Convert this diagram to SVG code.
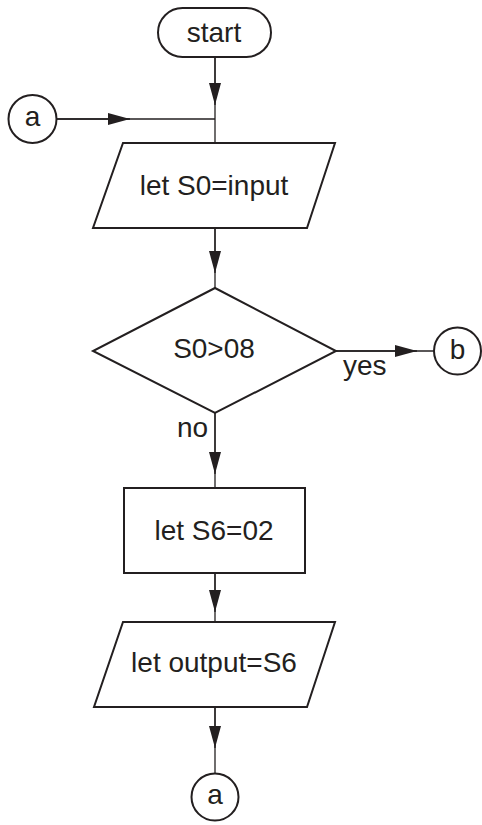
<svg xmlns="http://www.w3.org/2000/svg" width="482" height="825" viewBox="0 0 482 825">
<style>
.shape{fill:#fff;stroke:#231f20;stroke-width:2}
.line{fill:none;stroke:#231f20;stroke-width:1.3}
.t{font-family:"Liberation Sans",Arial,sans-serif;font-size:28px;fill:#231f20}
.c{text-anchor:middle}
</style>
<defs>
<marker id="arr" viewBox="0 0 22 12" refX="22" refY="6" markerWidth="22" markerHeight="12" markerUnits="userSpaceOnUse" orient="auto">
<path d="M0,0 L22,6 L0,12 Z" fill="#231f20"/>
</marker>
</defs>
<g id="connectors">
<line class="line" x1="215" y1="57" x2="215" y2="143"/>
<line class="line" x1="215" y1="57" x2="215" y2="105" marker-end="url(#arr)"/>
<line class="line" x1="56" y1="119" x2="215" y2="119"/>
<line class="line" x1="56" y1="119" x2="130" y2="119" marker-end="url(#arr)"/>
<line class="line" x1="215" y1="228" x2="215" y2="288"/>
<line class="line" x1="215" y1="228" x2="215" y2="273" marker-end="url(#arr)"/>
<line class="line" x1="336" y1="351" x2="434" y2="351"/>
<line class="line" x1="336" y1="351" x2="417" y2="351" marker-end="url(#arr)"/>
<line class="line" x1="215" y1="413" x2="215" y2="488"/>
<line class="line" x1="215" y1="413" x2="215" y2="474" marker-end="url(#arr)"/>
<line class="line" x1="215" y1="573" x2="215" y2="622"/>
<line class="line" x1="215" y1="573" x2="215" y2="612" marker-end="url(#arr)"/>
<line class="line" x1="215" y1="707" x2="215" y2="773"/>
<line class="line" x1="215" y1="707" x2="215" y2="748" marker-end="url(#arr)"/>
<text class="t" x="343" y="375">yes</text>
<text class="t" x="177" y="437">no</text>
</g>
<g id="start">
<rect class="shape" x="158" y="8" width="113" height="49" rx="24.5" ry="24.5"/>
<text class="t c" x="214" y="42">start</text>
</g>
<g id="connector-a-in">
<circle class="shape" cx="32.5" cy="119" r="24"/>
<text class="t c" x="32.5" y="126">a</text>
</g>
<g id="input">
<polygon class="shape" points="123,143 335,143 307,228 93,228"/>
<text class="t c" x="214" y="195">let S0=input</text>
</g>
<g id="decision">
<polygon class="shape" points="215,288 336,351 215,413 93,351"/>
<text class="t c" x="214" y="358">S0&gt;08</text>
</g>
<g id="connector-b">
<circle class="shape" cx="457.5" cy="351" r="23.5"/>
<text class="t c" x="457.5" y="359">b</text>
</g>
<g id="process">
<rect class="shape" x="124" y="488" width="181" height="85"/>
<text class="t c" x="214" y="540">let S6=02</text>
</g>
<g id="output">
<polygon class="shape" points="123,622 335,622 307,707 94,707"/>
<text class="t c" x="214" y="672">let output=S6</text>
</g>
<g id="connector-a-out">
<circle class="shape" cx="215" cy="797" r="23.5"/>
<text class="t c" x="215" y="804">a</text>
</g>
</svg>
